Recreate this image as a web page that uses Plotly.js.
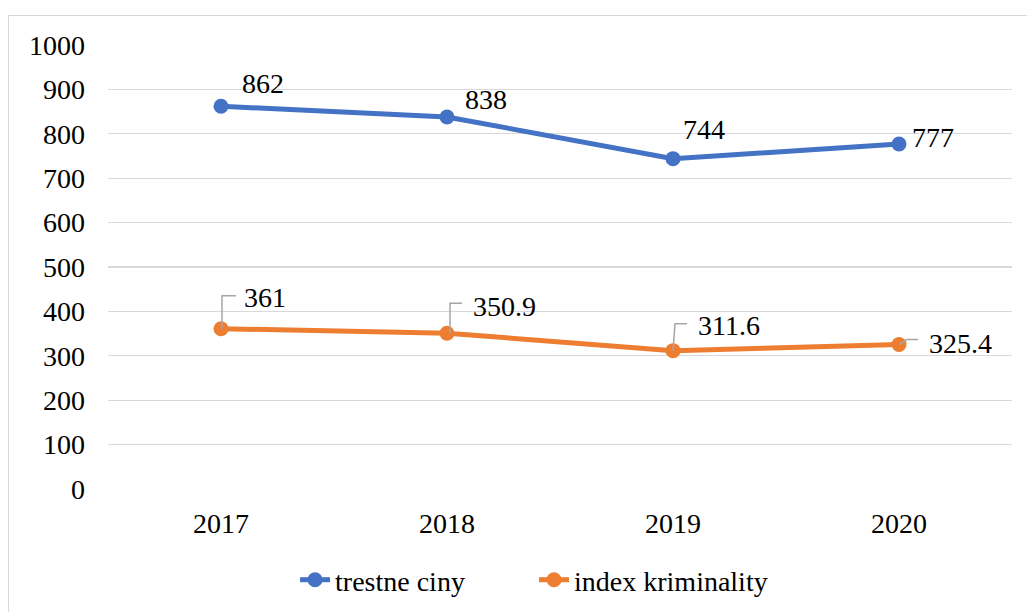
<!DOCTYPE html>
<html>
<head>
<meta charset="utf-8">
<script src="https://cdn.plot.ly/plotly-3.0.1.min.js"></script>
<style>
  html, body { margin: 0; padding: 0; background: #ffffff; }
  #frame { position: absolute; left: 8px; top: 15px; width: 1100px; height: 700px; border: 1px solid #d9d9d9; box-sizing: border-box; }
  #chart { position: absolute; left: 0; top: 0; width: 1027px; height: 612px; }
</style>
</head>
<body>
<div id="frame"></div>
<div id="chart"></div>
<script>
const years = ['2017', '2018', '2019', '2020'];
const trestneCiny = [862, 838, 744, 777];
const indexKriminality = [361, 350.9, 311.6, 325.4];
const seriesNames = ['trestne ciny', 'index kriminality'];
const yTicks = [0, 100, 200, 300, 400, 500, 600, 700, 800, 900, 1000];

const blue = '#4472C4';
const orange = '#ED7D31';
const fontFamily = 'Times New Roman, Liberation Serif, DejaVu Serif, serif';

const traces = [
  { x: years, y: trestneCiny, name: seriesNames[0], type: 'scatter', mode: 'lines+markers',
    line: { color: blue, width: 5 }, marker: { color: blue, size: 15 }, hoverinfo: 'skip' },
  { x: years, y: indexKriminality, name: seriesNames[1], type: 'scatter', mode: 'lines+markers',
    line: { color: orange, width: 5 }, marker: { color: orange, size: 15 }, hoverinfo: 'skip' }
];

// label offsets (pixels) relative to each point
const blueOffsets = [[42, 23], [39, 17], [31, 29], [34, 7]];
const orangeOffsets = [[44, 31], [57, 27], [56, 25], [61, 1]];
const orangeLeaders = [
  'M1,0L1,33L15,33',
  'M3,0L3,30L15,30',
  'M0,0L2,27L14,27',
  'M0,0L8,5L19,5'
];

const annotations = [];
const shapes = [];
years.forEach((yr, i) => {
  annotations.push({ x: i, y: trestneCiny[i], xref: 'x', yref: 'y', text: String(trestneCiny[i]),
    showarrow: false, xshift: blueOffsets[i][0], yshift: blueOffsets[i][1],
    font: { family: fontFamily, size: 28, color: '#000000' } });
  annotations.push({ x: i, y: indexKriminality[i], xref: 'x', yref: 'y', text: String(indexKriminality[i]),
    showarrow: false, xshift: orangeOffsets[i][0], yshift: orangeOffsets[i][1],
    font: { family: fontFamily, size: 28, color: '#000000' } });
  shapes.push({ type: 'path', xref: 'x', yref: 'y', xsizemode: 'pixel', ysizemode: 'pixel',
    xanchor: i, yanchor: indexKriminality[i], path: orangeLeaders[i],
    line: { color: '#a6a6a6', width: 1.5 } });
});

const layout = {
  width: 1027, height: 612,
  margin: { l: 108, r: 15, t: 45, b: 123 },
  paper_bgcolor: 'rgba(0,0,0,0)', plot_bgcolor: 'rgba(0,0,0,0)',
  font: { family: fontFamily, size: 28, color: '#000000' },
  showlegend: true,
  legend: { orientation: 'h', x: 0.520, xanchor: 'center', xref: 'container',
    y: 1 - 580 / 612, yanchor: 'middle', yref: 'container', entrywidth: 194,
    font: { family: fontFamily, size: 28, color: '#000000' } },
  xaxis: { type: 'category', range: [-0.5, 3.5], showgrid: false, zeroline: false,
    showline: false, ticks: '', ticklabelstandoff: 15, fixedrange: true },
  yaxis: { range: [0, 1000], tickvals: yTicks, showgrid: true, gridcolor: '#d9d9d9', gridwidth: 1.3,
    zeroline: false, showline: false, ticks: '', ticklabelstandoff: 22, fixedrange: true },
  annotations: annotations,
  shapes: shapes
};

Plotly.newPlot('chart', traces, layout, { displayModeBar: false, staticPlot: true });
</script>
</body>
</html>
